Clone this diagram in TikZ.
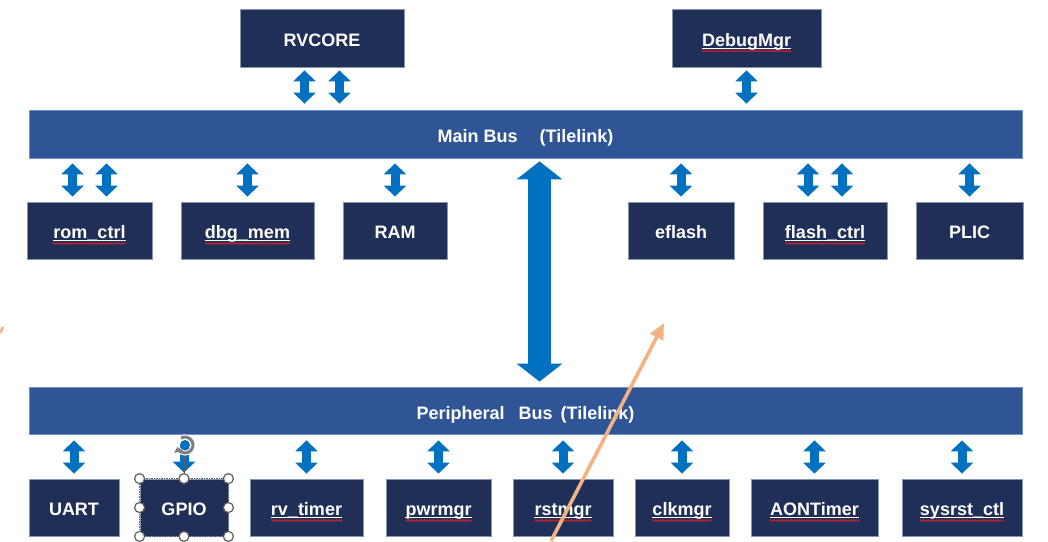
\documentclass[tikz,border=0pt]{standalone}
\usepackage{fontspec}
\setmainfont{Liberation Sans}
\usetikzlibrary{arrows.meta,decorations.pathmorphing}

\definecolor{boxnavy}{HTML}{1F2F57}
\definecolor{boxedge}{HTML}{8497B0}
\definecolor{busblue}{HTML}{2F5597}
\definecolor{busedge}{HTML}{7090C8}
\definecolor{linkblue}{HTML}{0070C0}
\definecolor{peach}{HTML}{F4B183}
\definecolor{handlegray}{HTML}{5F5F5F}
\definecolor{spellred}{HTML}{E02020}

% plain white label, baseline a little below the block centre
\newcommand\lab[2]{%
  \node[lbl, anchor=base] (#1-t) at ([yshift=-8pt]#1.center) {#2};}
% label carrying an underline and a red wavy mark below it
\newcommand\flag[2]{%
  \lab{#1}{#2}%
  \draw[white, line width=1pt] ([yshift=-2.4pt]#1-t.base west) -- ([yshift=-2.4pt]#1-t.base east);
  \draw[spellred, line width=0.7pt, decorate, decoration={snake, amplitude=0.8pt, segment length=2.6pt}]
    ([yshift=-5pt]#1-t.base west) -- ([yshift=-5pt]#1-t.base east);}

\begin{document}
\begin{tikzpicture}[x=1pt, y=-1pt,
  blk/.style={draw=boxedge, line width=0.8pt, fill=boxnavy, inner sep=0pt},
  bus/.style={draw=busedge, line width=0.8pt, fill=busblue, inner sep=0pt,
              minimum width=993pt},
  lbl/.style={text=white, inner sep=0pt, font=\fontsize{18}{20}\selectfont\bfseries},
  link/.style={draw=linkblue, line width=9pt,
               {Triangle[width=22pt,length=11pt]}-{Triangle[width=22pt,length=11pt]},
               shorten <=5pt, shorten >=5pt},
  trunk/.style={draw=linkblue, line width=23pt,
               {Triangle[width=45pt,length=18pt]}-{Triangle[width=45pt,length=18pt]},
               shorten <=3pt, shorten >=5pt},
  handle/.style={circle, draw=handlegray, line width=1.2pt, fill=white,
                 minimum size=10pt, inner sep=0pt},
  pointer/.style={draw=peach, line width=3.6pt, -{Triangle[length=16pt,width=14pt]}}
]
\fill[white] (0,0) rectangle (1048,541);
\useasboundingbox (0,0) rectangle (1048,541);

% ---- masters on top ----
\node[blk, minimum width=164pt, minimum height=58pt] (rv)  at (322,38)    {};
\node[blk, minimum width=149pt, minimum height=58pt] (dm)  at (746.5,38)  {};

% ---- buses ----
\node[bus, minimum height=48pt] (mainbus) at (525.5,134)   {};
\node[bus, minimum height=47pt] (peribus) at (525.5,410.5) {};

% ---- main bus slaves ----
\node[blk, minimum width=125pt, minimum height=57pt] (rom)    at (89.5,230.5)  {};
\node[blk, minimum width=133pt, minimum height=57pt] (dbgmem) at (247.5,230.5) {};
\node[blk, minimum width=104pt, minimum height=57pt] (ram)    at (395,230.5)   {};
\node[blk, minimum width=106pt, minimum height=57pt] (efl)    at (681,230.5)   {};
\node[blk, minimum width=124pt, minimum height=57pt] (fctl)   at (825,230.5)   {};
\node[blk, minimum width=107pt, minimum height=57pt] (plic)   at (969.5,230.5) {};

% ---- peripheral bus slaves ----
\node[blk, minimum width=90pt,  minimum height=57pt] (uart) at (74,507.5)    {};
\node[blk, minimum width=88pt,  minimum height=57pt] (gpio) at (184,507.5)   {};
\node[blk, minimum width=113pt, minimum height=57pt] (rvt)  at (306.5,507.5) {};
\node[blk, minimum width=105pt, minimum height=57pt] (pwr)  at (438.5,507.5) {};
\node[blk, minimum width=100pt, minimum height=57pt] (rst)  at (563,507.5)   {};
\node[blk, minimum width=94pt,  minimum height=57pt] (clk)  at (682,507.5)   {};
\node[blk, minimum width=127pt, minimum height=57pt] (aon)  at (814.5,507.5) {};
\node[blk, minimum width=120pt, minimum height=57pt] (sys)  at (962,507.5)   {};

% ---- labels ----
\lab{rv}{RVCORE}
\flag{dm}{DebugMgr}
\node[lbl, anchor=base] (mainbus-t) at ([yshift=-8pt]mainbus.center) {Main Bus\hspace{22pt}(Tilelink)};
\node[lbl, anchor=base] (peribus-t) at ([yshift=-8.5pt]peribus.center) {Peripheral\hspace{14pt}Bus\hspace{8pt}(Tilelink)};
\flag{rom}{rom\_ctrl}
\flag{dbgmem}{dbg\_mem}
\lab{ram}{RAM}
\lab{efl}{eflash}
\flag{fctl}{flash\_ctrl}
\lab{plic}{PLIC}
\lab{uart}{UART}
\lab{gpio}{GPIO}
\flag{rvt}{rv\_timer}
\flag{pwr}{pwrmgr}
\flag{rst}{rstmgr}
\flag{clk}{clkmgr}
\flag{aon}{AONTimer}
\flag{sys}{sysrst\_ctl}

% ---- masters to main bus ----
\coordinate (rv1) at ([xshift=-17.5pt]rv.south);
\coordinate (rv2) at ([xshift=17.5pt]rv.south);
\draw[link, shorten <=3pt, shorten >=6pt] (rv1) -- (rv1 |- mainbus.north);
\draw[link, shorten <=3pt, shorten >=6pt] (rv2) -- (rv2 |- mainbus.north);
\draw[link, shorten <=3pt, shorten >=6pt] (dm.south) -- (dm.south |- mainbus.north);

% ---- main bus to its slaves ----
\coordinate (rom1) at ([xshift=-17pt]rom.north);
\coordinate (rom2) at ([xshift=17pt]rom.north);
\coordinate (fc1) at ([xshift=-17pt]fctl.north);
\coordinate (fc2) at ([xshift=17pt]fctl.north);
\foreach \p in {rom1,rom2,fc1,fc2,dbgmem.north,ram.north,efl.north,plic.north}
  \draw[link] (\p |- mainbus.south) -- (\p);

% ---- bridge between the two buses ----
\coordinate (br) at ([xshift=14pt]mainbus.south);
\draw[trunk] (br) -- (br |- peribus.north);

% ---- peripheral bus to its slaves ----
\foreach \p in {uart,rvt,pwr,rst,clk,aon,sys}
  \draw[link, shorten <=6pt] (\p.north |- peribus.south) -- (\p.north);

% ---- GPIO link, partly hidden under the rotate handle ----
\coordinate (rot) at (185,445);
\draw[draw=linkblue, line width=9pt, -{Triangle[width=22pt,length=11pt]}, shorten >=6pt]
  ([xshift=-1pt]rot) -- (gpio.north);

% ---- selection frame on GPIO ----
\draw[handlegray, line width=0.6pt, dash pattern=on 1.5pt off 1pt]
  (gpio.north west) rectangle (gpio.south east);
\draw[handlegray, line width=0.8pt] ([xshift=-1pt]rot) -- (gpio.north);
\foreach \a in {north west,north,north east,east,south east,south,south west,west}
  \node[handle] at (gpio.\a) {};
\fill[linkblue] (rot) circle[radius=5pt];
\draw[white, line width=5pt] (rot) circle[radius=8pt];
\draw[handlegray!80, line width=3pt, -{Triangle[length=5pt,width=9pt]}]
  ([shift={(120:8pt)}]rot) arc[start angle=120, end angle=-165, radius=8pt];

% ---- orange pointers ----
\coordinate (o1) at (551,541);
\coordinate (o2) at (664,323);
\draw[pointer] (o1) -- (o2);
\coordinate (s1) at (0,333);
\coordinate (s2) at (3,327);
\draw[peach, line width=2.5pt] (s1) -- (s2);
\end{tikzpicture}
\end{document}
